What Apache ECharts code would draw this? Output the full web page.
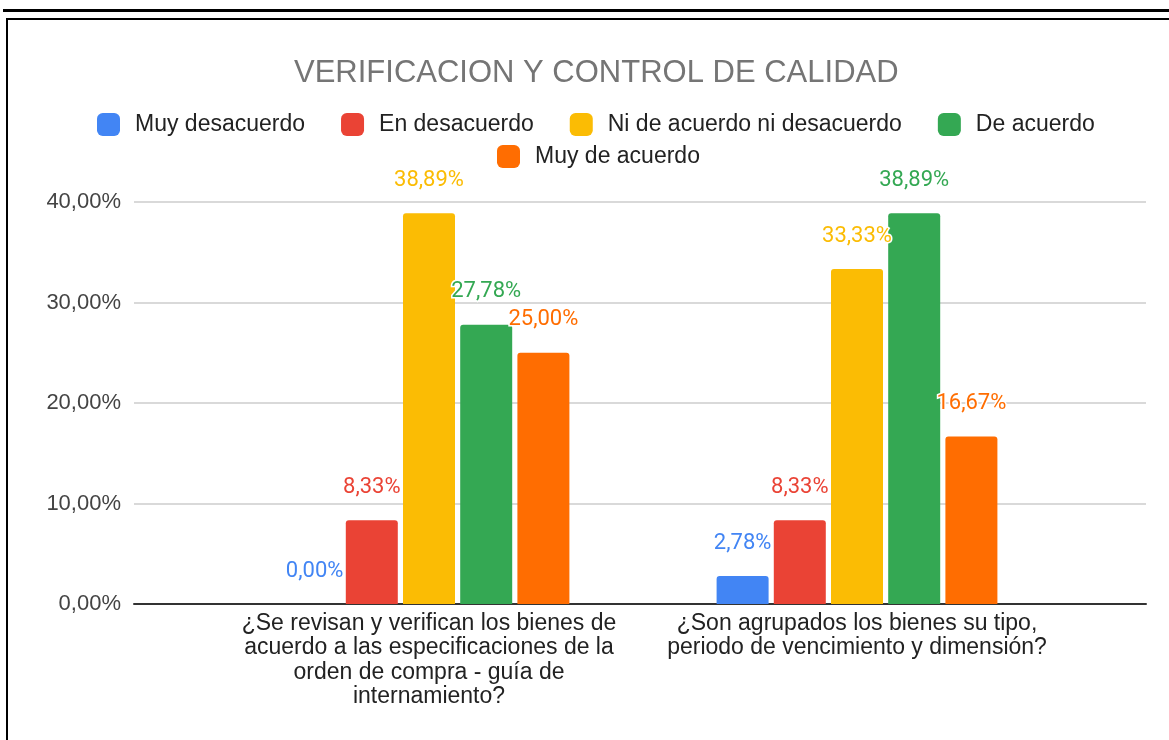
<!DOCTYPE html>
<html>
<head>
<meta charset="utf-8">
<script src="https://cdn.jsdelivr.net/npm/echarts@6/dist/echarts.min.js"></script>
<style>
  html, body { margin: 0; padding: 0; background: #fff; }
  #chart { width: 1169px; height: 740px; }
</style>
</head>
<body>
<div id="chart"></div>
<script>
  // preguntas (categorias del eje x)
  const preguntas = [
    '¿Se revisan y verifican los bienes de\nacuerdo a las especificaciones de la\norden de compra - guía de\ninternamiento?',
    '¿Son agrupados los bienes su tipo,\nperiodo de vencimiento y dimensión?'
  ];
  // nombres de las respuestas
  const respuestas = ['Muy desacuerdo', 'En desacuerdo', 'Ni de acuerdo ni desacuerdo', 'De acuerdo', 'Muy de acuerdo'];
  const colores = ['#4285F4', '#EA4335', '#FBBC04', '#34A853', '#FF6D01'];
  // porcentajes por respuesta
  const muyDesacuerdo = [0.00, 2.78];
  const enDesacuerdo = [8.33, 8.33];
  const niAcuerdoNiDesacuerdo = [38.89, 33.33];
  const deAcuerdo = [27.78, 38.89];
  const muyDeAcuerdo = [25.00, 16.67];
  const valores = [muyDesacuerdo, enDesacuerdo, niAcuerdoNiDesacuerdo, deAcuerdo, muyDeAcuerdo];
  // eje y
  const yMin = 0, yMax = 40, yPaso = 10;

  const fmt = v => v.toFixed(2).replace('.', ',') + '%';
  const fuente = '"Liberation Sans", Arial, sans-serif';

  let myChart = echarts.init(document.getElementById('chart'));

  let series = respuestas.map((nombre, i) => ({
    name: nombre,
    type: 'bar',
    xAxisIndex: 1,
    yAxisIndex: 1,
    barWidth: 52,
    barGap: '10%',
    data: valores[i],
    itemStyle: { color: colores[i], borderRadius: [3, 3, 0, 0] },
    label: {
      show: true,
      position: 'top',
      distance: 22,
      fontSize: 22,
      fontFamily: 'Roboto, sans-serif',
      color: colores[i],
      textBorderColor: '#fff',
      textBorderWidth: 3,
      formatter: p => fmt(p.value)
    }
  }));

  let legendBase = {
    itemWidth: 23,
    itemHeight: 23,
    itemGap: 36,
    icon: 'roundRect',
    padding: 0,
    textStyle: { fontSize: 23, fontFamily: fuente, color: '#222', padding: [0, 0, 0, 10] }
  };

  let option = {
    animation: false,
    title: {
      text: 'VERIFICACION Y CONTROL DE CALIDAD',
      left: 294,
      top: 58,
      padding: 0,
      textStyle: { fontSize: 31, fontWeight: 'normal', color: '#757575', fontFamily: fuente }
    },
    legend: [
      Object.assign({}, legendBase, { data: respuestas.slice(0, 4), left: 97, top: 113 }),
      Object.assign({}, legendBase, { data: respuestas.slice(4), left: 497, top: 145 })
    ],
    grid: [
      { left: 134, right: 23, top: 202, bottom: 136 },
      { left: 215, right: 98, top: 202, bottom: 136 }
    ],
    xAxis: [
      {
        gridIndex: 0, type: 'value', min: 0, max: 1,
        axisLine: { show: true, lineStyle: { color: '#333', width: 2 } },
        axisTick: { show: false }, axisLabel: { show: false }, splitLine: { show: false }
      },
      {
        gridIndex: 1, type: 'category', data: preguntas,
        axisLine: { show: false }, axisTick: { show: false },
        axisLabel: { fontSize: 23, lineHeight: 24.5, color: '#222', fontFamily: fuente, margin: 7, interval: 0 }
      }
    ],
    yAxis: [
      {
        gridIndex: 0, type: 'value', min: yMin, max: yMax, interval: yPaso,
        axisLine: { show: false }, axisTick: { show: false },
        axisLabel: { fontSize: 22, color: '#444', fontFamily: fuente, margin: 13, formatter: v => fmt(v) },
        splitLine: { lineStyle: { color: '#cccccc', width: 1.5 } }
      },
      {
        gridIndex: 1, type: 'value', min: yMin, max: yMax, interval: yPaso,
        show: false, splitLine: { show: false }
      }
    ],
    graphic: [
      { type: 'line', shape: { x1: 3, y1: 10.5, x2: 1169, y2: 10.5 }, style: { stroke: '#000', lineWidth: 3 }, silent: true },
      { type: 'line', shape: { x1: 6, y1: 19, x2: 1169, y2: 19 }, style: { stroke: '#000', lineWidth: 2 }, silent: true },
      { type: 'line', shape: { x1: 7, y1: 18, x2: 7, y2: 740 }, style: { stroke: '#000', lineWidth: 2 }, silent: true }
    ],
    series: series
  };

  myChart.setOption(option);
</script>
</body>
</html>
